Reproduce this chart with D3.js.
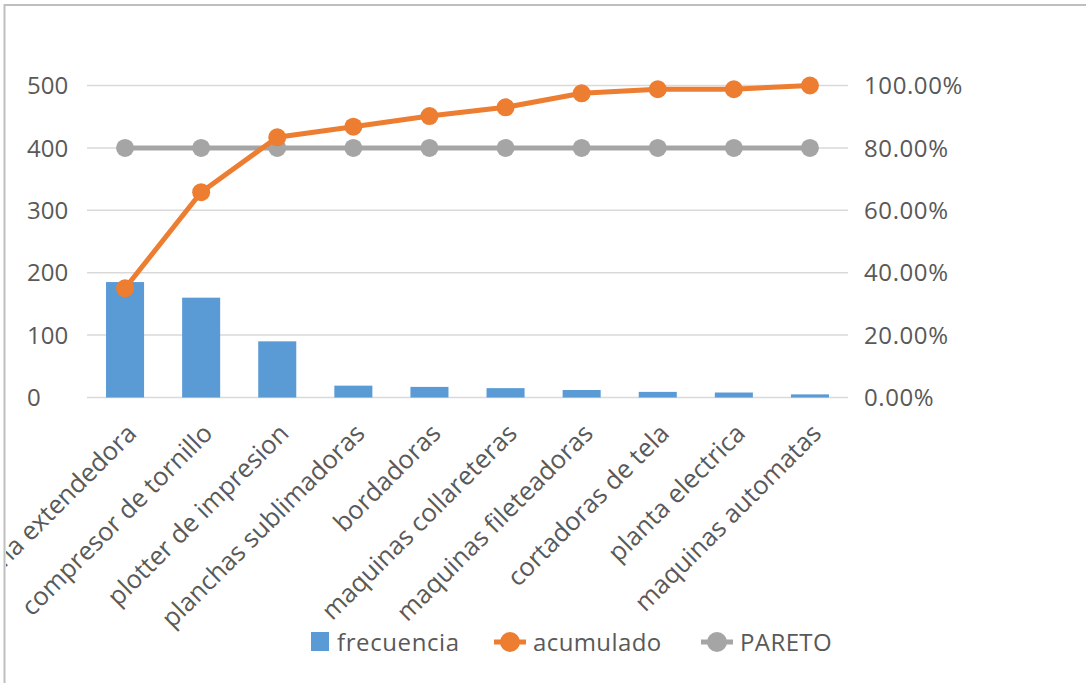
<!DOCTYPE html>
<html>
<head>
<meta charset="utf-8">
<script src="https://cdn.jsdelivr.net/npm/d3@7"></script>
<style>
  body { margin: 0; background: #fff; }
  text { font-family: "Open Sans", "Noto Sans", sans-serif; fill: #595959; }
</style>
</head>
<body>
<div id="chart"></div>
<script>
// data
const categories = ["maquina extendedora", "compresor de tornillo", "plotter de impresion",
    "planchas sublimadoras", "bordadoras", "maquinas collareteras", "maquinas fileteadoras",
    "cortadoras de tela", "planta electrica", "maquinas automatas"];
const frecuencia = [185, 160, 90, 19, 17, 15, 12, 9, 8, 5];
const acumulado = [0.35, 0.658, 0.834, 0.868, 0.902, 0.93, 0.975, 0.988, 0.988, 1.0];
const pareto = [0.8, 0.8, 0.8, 0.8, 0.8, 0.8, 0.8, 0.8, 0.8, 0.8];
const leftTicks = [0, 100, 200, 300, 400, 500];
const rightTicks = [0, 0.2, 0.4, 0.6, 0.8, 1.0];

const svgAttr = { width: 1086, height: 683 };
const plot = { left: 87, right: 848, top: 85.5, bottom: 397.5 };
const colors = { bar: "#5B9BD5", acum: "#ED7D31", pareto: "#A5A5A5", grid: "#D9D9D9", border: "#BFBFBF" };
const fontSize = 24;

const svg = d3.select("#chart")
              .append("svg")
              .attr("width", svgAttr.width)
              .attr("height", svgAttr.height);

svg.append("rect")
   .attr("width", svgAttr.width)
   .attr("height", svgAttr.height)
   .attr("fill", "#fff");

// chart frame (only top and left edges are visible in the crop)
svg.append("clipPath").attr("id", "frame")
   .append("rect").attr("x", 6).attr("y", 6).attr("width", svgAttr.width).attr("height", svgAttr.height);
svg.append("path")
   .attr("d", `M4.5,${svgAttr.height} V5 H${svgAttr.width}`)
   .attr("fill", "none")
   .attr("stroke", colors.border)
   .attr("stroke-width", 2);

const x = d3.scaleBand()
            .domain(categories)
            .range([plot.left, plot.right])
            .paddingInner(0.5)
            .paddingOuter(0.25);

const y = d3.scaleLinear().domain([0, 500]).range([plot.bottom, plot.top]);
const y2 = d3.scaleLinear().domain([0, 1]).range([plot.bottom, plot.top]);

// gridlines
svg.append("g")
   .selectAll("line")
   .data(leftTicks)
   .join("line")
   .attr("x1", plot.left)
   .attr("x2", plot.right)
   .attr("y1", d => y(d))
   .attr("y2", d => y(d))
   .attr("stroke", colors.grid)
   .attr("stroke-width", 1.5);

// left axis labels
svg.append("g")
   .selectAll("text")
   .data(leftTicks)
   .join("text")
   .attr("x", 27)
   .attr("y", d => y(d))
   .attr("dy", "0.36em")
   .attr("font-size", fontSize)
   .text(d => d);

// right axis labels
svg.append("g")
   .selectAll("text")
   .data(rightTicks)
   .join("text")
   .attr("x", 864)
   .attr("y", d => y2(d))
   .attr("dy", "0.36em")
   .attr("font-size", fontSize)
   .attr("letter-spacing", 0.6)
   .text(d => d3.format(".2%")(d));

// bars
svg.append("g")
   .selectAll("rect")
   .data(frecuencia)
   .join("rect")
   .attr("x", (d, i) => x(categories[i]))
   .attr("y", d => y(d))
   .attr("width", x.bandwidth())
   .attr("height", d => y(0) - y(d))
   .attr("fill", colors.bar);

const cx = i => x(categories[i]) + x.bandwidth() / 2;

// lines with markers
function drawLine(values, color, r) {
    const line = d3.line()
                   .x((d, i) => cx(i))
                   .y(d => y2(d));
    svg.append("path")
       .attr("d", line(values))
       .attr("fill", "none")
       .attr("stroke", color)
       .attr("stroke-width", 5)
       .attr("stroke-linejoin", "round");
    svg.append("g")
       .selectAll("circle")
       .data(values)
       .join("circle")
       .attr("cx", (d, i) => cx(i))
       .attr("cy", d => y2(d))
       .attr("r", r)
       .attr("fill", color);
}
drawLine(pareto, colors.pareto, 9);
drawLine(acumulado, colors.acum, 9);

// category labels
svg.append("g")
   .attr("clip-path", "url(#frame)")
   .selectAll("text")
   .data(categories)
   .join("text")
   .attr("text-anchor", "end")
   .attr("font-size", 25.5)
   .attr("transform", (d, i) => `translate(${cx(i) + 13},${435}) rotate(-45)`)
   .text(d => d);

// legend
const legendY = 642;
const legend = svg.append("g");
legend.append("rect")
      .attr("x", 311).attr("y", legendY - 10)
      .attr("width", 18).attr("height", 19)
      .attr("fill", colors.bar);
legend.append("text").attr("x", 337).attr("y", legendY).attr("dy", "0.36em")
      .attr("font-size", fontSize).attr("letter-spacing", 0.6).text("frecuencia");

[[{ x: 494, color: colors.acum, label: "acumulado" }], [{ x: 701, color: colors.pareto, label: "PARETO" }]]
    .forEach(([item]) => {
        legend.append("line")
              .attr("x1", item.x).attr("x2", item.x + 32)
              .attr("y1", legendY).attr("y2", legendY)
              .attr("stroke", item.color).attr("stroke-width", 5);
        legend.append("circle")
              .attr("cx", item.x + 16).attr("cy", legendY)
              .attr("r", 10).attr("fill", item.color);
        legend.append("text").attr("x", item.x + 39).attr("y", legendY).attr("dy", "0.36em")
              .attr("font-size", fontSize).attr("letter-spacing", 0.4).text(item.label);
    });
</script>
</body>
</html>
